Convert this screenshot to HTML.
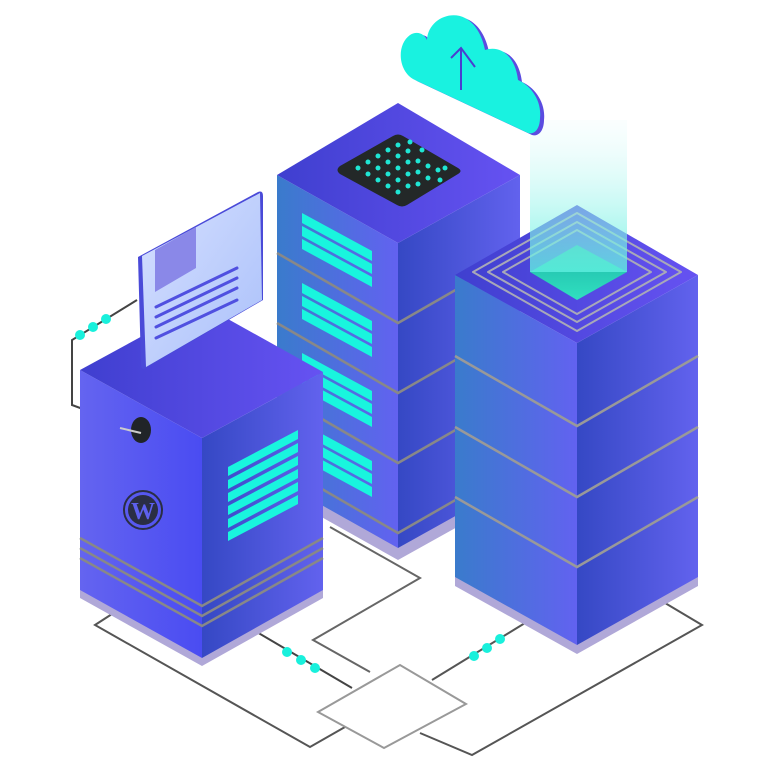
<!DOCTYPE html>
<html><head><meta charset="utf-8"><style>html,body{margin:0;padding:0;background:#fff}svg{display:block}</style></head>
<body>
<svg width="768" height="763" viewBox="0 0 768 763" xmlns="http://www.w3.org/2000/svg">
<defs>
<linearGradient id="lf" x1="0" y1="0" x2="1" y2="0"><stop offset="0" stop-color="#3a7bcc"/><stop offset="1" stop-color="#6262f0"/></linearGradient>
<linearGradient id="rf" x1="0" y1="0" x2="1" y2="0"><stop offset="0" stop-color="#3548c4"/><stop offset="1" stop-color="#6262ee"/></linearGradient>
<linearGradient id="tp" x1="0" y1="0" x2="1" y2="0"><stop offset="0" stop-color="#3f3fcf"/><stop offset="1" stop-color="#6652f2"/></linearGradient>
<linearGradient id="blf" x1="0" y1="0" x2="1" y2="0"><stop offset="0" stop-color="#6464f0"/><stop offset="1" stop-color="#4a4cf2"/></linearGradient>
<linearGradient id="beam" x1="0" y1="0" x2="0" y2="1"><stop offset="0" stop-color="#e8fbfb" stop-opacity="0.2"/><stop offset="1" stop-color="#5ff0e0" stop-opacity="0.8"/></linearGradient>
<linearGradient id="card" x1="0" y1="0" x2="1" y2="1"><stop offset="0" stop-color="#d6e0ff"/><stop offset="1" stop-color="#aac0fa"/></linearGradient>
<linearGradient id="glow" x1="0" y1="0" x2="0" y2="1"><stop offset="0" stop-color="#1fb6a8"/><stop offset="1" stop-color="#30e0c0"/></linearGradient>
<filter id="bl" x="-20%" y="-20%" width="140%" height="140%"><feGaussianBlur stdDeviation="4"/></filter>
</defs>

<!-- wires -->
<g fill="none" stroke-width="2">
<path d="M112,614 L95,625 L310,747 L345,727" stroke="#555"/>
<path d="M330,527 L420,578 L313,640 L370,672" stroke="#666"/>
<path d="M250,628 L352,688" stroke="#444"/>
<path d="M432,680 L525,623" stroke="#555"/>
<path d="M420,733 L472,755 L702,625 L660,600" stroke="#555"/>
<path d="M318,712 L400,665 L466,704 L384,748 Z" stroke="#999" fill="#fff"/>
<path d="M140,430 L72,405 L72,340 L137,300" stroke="#444"/>
</g>
<g fill="#19f0dc">
<circle cx="287" cy="652" r="5"/><circle cx="301" cy="660" r="5"/><circle cx="315" cy="668" r="5"/>
<circle cx="474" cy="656" r="5"/><circle cx="487" cy="648" r="5"/><circle cx="500" cy="639" r="5"/>
<circle cx="80" cy="335" r="5"/><circle cx="93" cy="327" r="5"/><circle cx="106" cy="319" r="5"/>
</g>

<!-- middle tower -->
<polygon points="277,183 398,251 520,183 520,492 398,560 277,492" fill="#b0a8d8"/>
<polygon points="277,175 398,243 398,548 277,480" fill="url(#lf)"/>
<polygon points="398,243 520,175 520,480 398,548" fill="url(#rf)"/>
<polygon points="277,175 398,103 520,175 398,243" fill="url(#tp)"/>
<g stroke-width="2.5" fill="none">
<path d="M277,253 L398,323 L520,253" stroke="#888"/>
<path d="M277,323 L398,393 L520,323" stroke="#888"/>
<path d="M277,393 L398,463 L520,393" stroke="#888"/>
<path d="M277,463 L398,533 L520,463" stroke="#888"/>
</g>
<g fill="#19f5de">
<g id="v"><polygon points="302,213 372,251 372,261 302,223"/><polygon points="302,226 372,264 372,274 302,236"/><polygon points="302,239 372,277 372,287 302,249"/></g>
<use href="#v" y="70"/><use href="#v" y="140"/><use href="#v" y="210"/>
</g>
<path d="M340,166 L393,136 Q398,133 403,136 L458,168 Q463,171 458,174 L407,205 Q402,208 397,205 L340,174 Q335,170 340,166Z" fill="#232828"/>
<g fill="#1fe6d4">
<circle cx="358" cy="168" r="2.5"/><circle cx="368" cy="162" r="2.5"/><circle cx="378" cy="156" r="2.5"/><circle cx="388" cy="150" r="2.5"/><circle cx="398" cy="145" r="2.5"/>
<circle cx="368" cy="174" r="2.5"/><circle cx="378" cy="168" r="2.5"/><circle cx="388" cy="162" r="2.5"/><circle cx="398" cy="156" r="2.5"/><circle cx="408" cy="151" r="2.5"/><circle cx="418" cy="161" r="2.5"/>
<circle cx="378" cy="180" r="2.5"/><circle cx="388" cy="174" r="2.5"/><circle cx="398" cy="168" r="2.5"/><circle cx="408" cy="162" r="2.5"/><circle cx="418" cy="172" r="2.5"/><circle cx="428" cy="166" r="2.5"/>
<circle cx="388" cy="186" r="2.5"/><circle cx="398" cy="180" r="2.5"/><circle cx="408" cy="174" r="2.5"/><circle cx="418" cy="184" r="2.5"/><circle cx="428" cy="178" r="2.5"/><circle cx="438" cy="170" r="2.5"/>
<circle cx="398" cy="192" r="2.5"/><circle cx="408" cy="186" r="2.5"/><circle cx="440" cy="180" r="2.5"/><circle cx="410" cy="142" r="2.5"/><circle cx="422" cy="150" r="2.5"/><circle cx="445" cy="168" r="2.5"/>
</g>

<!-- right tower -->
<polygon points="455,283 577,351 698,283 698,586 577,654 455,586" fill="#b0a8d8"/>
<polygon points="455,275 577,343 577,645 455,577" fill="url(#lf)"/>
<polygon points="577,343 698,275 698,577 577,645" fill="url(#rf)"/>
<polygon points="455,275 577,205 698,275 577,343" fill="url(#tp)"/>
<g stroke-width="2.5" fill="none" stroke="#999">
<path d="M455,356 L577,426 L698,356"/><path d="M455,427 L577,497 L698,427"/><path d="M455,497 L577,567 L698,497"/>
</g>
<g fill="none" stroke="#a8a8b8" stroke-width="2">
<path d="M473,272 L577,213 L681,272 L577,331Z" stroke-linejoin="round"/>
<path d="M488,272 L577,222 L666,272 L577,322Z" stroke-linejoin="round"/>
<path d="M503,272 L577,230 L651,272 L577,314Z" stroke-linejoin="round"/>
</g>
<polygon points="530,272 577,245 627,272 577,300" fill="url(#glow)"/>
<rect x="530" y="120" width="97" height="152" fill="url(#beam)"/>

<!-- cloud -->
<g transform="translate(4,2)"><path d="M415,80 C398,72 396,45 410,35 C418,30 425,35 427,40 C428,20 450,10 465,18 C478,25 483,40 485,50 C500,45 515,55 518,80 C530,85 542,100 540,118 C540,128 535,135 528,133 Z" fill="#5b4ce0"/></g>
<path d="M415,80 C398,72 396,45 410,35 C418,30 425,35 427,40 C428,20 450,10 465,18 C478,25 483,40 485,50 C500,45 515,55 518,80 C530,85 542,100 540,118 C540,128 535,135 528,133 Z" fill="#19f2e0"/>
<path d="M461,90 L461,48 M451,58 L461,48 L475,67" stroke="#4a3ed0" stroke-width="2" fill="none"/>

<!-- left box -->
<polygon points="80,378 202,446 323,378 323,598 202,666 80,598" fill="#b0a8d8"/>
<polygon points="80,370 202,438 202,658 80,590" fill="url(#blf)"/>
<polygon points="202,438 323,372 323,590 202,658" fill="url(#rf)"/>
<polygon points="80,370 201,304 323,372 202,438" fill="url(#tp)"/>
<g fill="#19f5de">
<polygon points="228,467 298,430 298,439 228,476"/><polygon points="228,480 298,443 298,452 228,489"/><polygon points="228,493 298,456 298,465 228,502"/>
<polygon points="228,506 298,469 298,478 228,515"/><polygon points="228,519 298,482 298,491 228,528"/><polygon points="228,532 298,495 298,504 228,541"/>
</g>
<g stroke-width="2.5" fill="none" stroke="#888">
<path d="M80,538 L202,606 L323,538"/><path d="M80,548 L202,616 L323,548"/><path d="M80,558 L202,626 L323,558"/>
</g>
<ellipse cx="141" cy="430" rx="10" ry="13" fill="#202428"/>
<path d="M120,428 L141,433" stroke="#ccc" stroke-width="2"/>
<circle cx="143" cy="510" r="19" fill="none" stroke="#2a2e44" stroke-width="2"/>
<circle cx="143" cy="510" r="15" fill="#2a2e44"/>
<text x="143" y="519" font-family="Liberation Serif, serif" font-size="24" font-weight="bold" fill="#5d60ee" text-anchor="middle">W</text>

<!-- card -->
<path d="M138,257 L258,192 Q263,190 263,196 L263,300 L146,368 Q141,371 141,365 Z" fill="#4a4ad8"/>
<path d="M142,256 L260,193 L262,300 L146,367 Z" fill="url(#card)"/>
<polygon points="155,250 196,227 196,268 155,292" fill="#8a88e8"/>
<g stroke="#5050e0" stroke-width="3" stroke-linecap="round">
<path d="M156,307 L237,268"/><path d="M156,317 L237,278"/><path d="M156,327 L237,288"/><path d="M156,338 L237,300"/>
</g>
</svg>
</body></html>
